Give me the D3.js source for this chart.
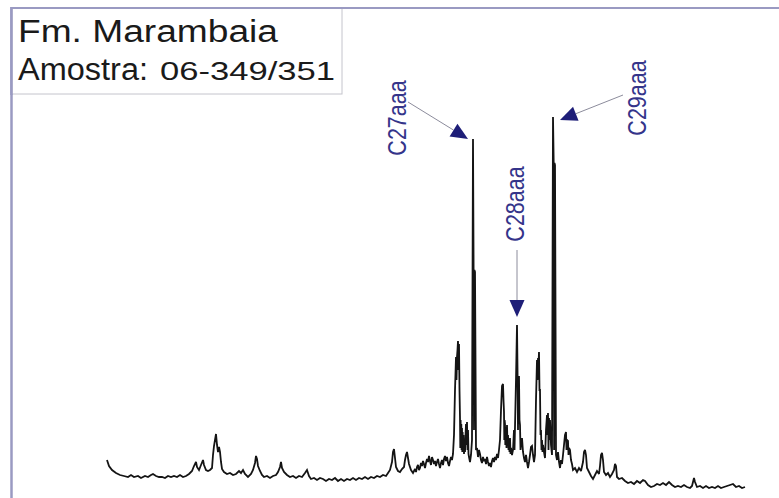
<!DOCTYPE html>
<html>
<head>
<meta charset="utf-8">
<script src="https://cdn.jsdelivr.net/npm/d3@7"></script>
<style>
  html, body { margin: 0; padding: 0; background: #ffffff; }
  svg { display: block; }
  text { font-family: "Liberation Sans", Arial, Helvetica, sans-serif; }
</style>
</head>
<body>
<svg id="chart" width="779" height="498"></svg>
<script>
// m/z 217 trace as [scan, relative abundance] pairs
const trace = [
  [0,30],[2,24],[5,20],[9,17],[13,15],[17,14],[21,13],[24,15],[27,13],[31,14],[34,12],[38,14],[41,13],[44,15],
  [46,16],[49,14],[52,13],[55,13],[58,12],[61,14],[64,13],[67,14],[70,13],[73,15],[76,13],[79,14],[82,16],[85,19],
  [87,24],[89,28],[90,23],[92,20],[94,25],[96,30],[97,25],[99,20],[101,19],[103,20],[105,22],[106,35],[107,44],
  [108,50],[109,56],[110,45],[111,38],[112,43],[113,38],[114,28],[115,21],[117,18],[120,16],[123,17],[126,15],
  [129,16],[132,19],[134,17],[136,20],[138,16],[141,13],[144,16],[146,20],[148,27],[149,34],[150,31],[151,24],
  [153,19],[155,15],[157,13],[160,14],[163,12],[166,14],[169,15],[171,18],[173,23],[174,28],[175,22],[177,18],
  [180,15],[183,13],[186,14],[189,12],[192,14],[195,13],[198,17],[200,20],[202,14],[204,11],[207,12],[210,10],
  [213,12],[216,11],[219,9],[222,11],[225,10],[228,12],[231,9],[234,11],[237,9],[240,11],[243,10],[246,12],
  [249,10],[252,12],[255,11],[258,13],[261,11],[264,13],[267,12],[270,14],[273,13],[276,15],[279,14],[281,17],
  [283,20],[285,28],[286,38],[287,41],[288,32],[289,23],[291,19],[293,18],[295,21],[297,23],[298,30],[299,35],
  [300,38],[301,32],[302,26],[304,20],[306,17],[307,19],[308,21],[309,18],[310,23],[311,25],[312,20],[313,22],
  [314,27],[315,24],[316,29],[317,26],[318,22],[319,27],[320,31],[321,28],[322,34],[323,29],[324,25],[325,33],
  [326,30],[327,26],[328,29],[329,24],[330,28],[331,31],[332,26],[333,22],[334,27],[335,30],[336,25],[337,31],
  [338,34],[339,29],[340,33],[341,27],[342,24],[343,29],[344,33],[345,30],[346,36],[347,55],[348,100],[349,133],
  [349.5,110],[350,133],[350.5,140],[351,149],[351.5,120],[352,146],[352.5,100],[353,72],[353.3,42],[353.6,70],
  [354,45],[354.3,66],[354.6,40],[355,62],[355.3,38],[355.6,58],[356,40],[356.5,55],[357,36],[357.5,50],[358,38],
  [358.5,54],[359,66],[359.5,45],[360,68],[360.5,40],[361,60],[361.5,36],[362,33],[363,28],[364,35],[365,50],
  [366,351],[366.6,220],[367,60],[367.4,220],[368,218],[369,40],[370,42],[371,33],[372,40],[373,36],[374,30],
  [375,27],[376,33],[377,29],[378,31],[379,26],[380,33],[381,28],[382,24],[383,27],[384,23],[385,29],[386,32],
  [387,28],[388,33],[389,30],[390,36],[391,32],[392,40],[393,50],[394,80],[395,104],[396,106],[396.5,90],[397,78],
  [397.3,50],[397.6,70],[398,66],[398.3,45],[398.6,62],[399,62],[399.5,42],[400,65],[400.5,45],[401,55],[401.5,40],
  [402,50],[402.5,38],[403,52],[403.5,36],[404,42],[405,35],[406,40],[407,60],[407.5,40],[408,63],[409,110],
  [410,165],[410.6,113],[411,60],[411.4,113],[412,113],[412.5,70],[413,65],[413.5,40],[414,45],[415,52],[416,38],
  [417,32],[418,28],[419,35],[420,28],[421,22],[422,28],[423,35],[424,43],[425,44],[426,35],[427,28],[428,35],
  [429,90],[430,130],[430.5,110],[431,132],[431.5,125],[432,138],[432.5,100],[433,100],[433.5,55],[434,60],
  [434.5,40],[435,50],[435.5,38],[436,45],[437,38],[438,32],[439,60],[440,75],[440.5,55],[441,77],[441.5,40],
  [442,72],[442.5,50],[443,70],[444,45],[445,35],[446,373],[446.7,327],[447.1,40],[447.5,327],[448,325],[449,35],
  [450,30],[451,38],[452,28],[453,22],[454,30],[455,26],[456,35],[457,45],[458,55],[459,58],[459.5,40],[460,50],
  [461,49],[461.5,35],[462,42],[463,40],[464,30],[465,26],[466,20],[468,22],[470,18],[472,22],[474,19],[476,28],
  [477,38],[478,40],[479,35],[480,22],[482,18],[484,14],[486,11],[488,15],[490,19],[492,16],[493,24],[494,35],
  [495,37],[496,30],[497,18],[499,15],[501,17],[503,13],[505,16],[507,20],[508,26],[509,24],[510,13],[512,11],
  [515,12],[518,9],[521,7],[524,8],[527,6],[530,9],[533,7],[536,10],[538,9],[541,5],[544,3],[547,4],[550,6],
  [553,5],[556,7],[559,5],[562,8],[565,5],[568,3],[571,4],[574,3],[577,5],[580,3],[583,2],[585,4],[587,12],
  [588,8],[590,3],[593,4],[596,2],[599,4],[602,2],[605,3],[608,2],[611,4],[614,2],[617,3],[620,4],[623,5],
  [626,6],[629,3],[632,4],[635,2],[638,3]
];

// Steranes labelled on the trace
const peakNames = ["C27aaa", "C28aaa", "C29aaa"];
const peakScans = [366, 410, 446];

const titleLine1 = "Fm. Marambaia";
const titleLine2a = "Amostra:";
const titleLine2b = "06-349/351";

const svg = d3.select("#chart");
const W = 779, H = 498;

const x = d3.scaleLinear().domain([0, 638]).range([107, 745]);
const y = d3.scaleLinear().domain([0, 380]).range([490, 110]);

// Frame lines (top and left)
const frameColor = "#9a9ac2";
svg.append("line").attr("x1", 11).attr("x2", W).attr("y1", 8).attr("y2", 8)
  .attr("stroke", frameColor).attr("stroke-width", 2);
svg.append("line").attr("x1", 11.5).attr("x2", 11.5).attr("y1", 7).attr("y2", H)
  .attr("stroke", frameColor).attr("stroke-width", 2.5);

// Chromatogram trace
const line = d3.line().x(d => x(d[0])).y(d => y(d[1]));
svg.append("path").datum(trace)
  .attr("d", line)
  .attr("fill", "none")
  .attr("stroke", "#141414")
  .attr("stroke-width", 1.8)
  .attr("stroke-linejoin", "miter")
  .attr("stroke-miterlimit", 2.5);

// Peak annotations: label, shaft and arrowhead
const labelColor = "#34348a";
const headColor = "#1e1e78";
const annot = [
  { tip: [-5, 0],  tail: [-65, -37], label: [-76, -21] },
  { tip: [0, -8],  tail: [0, -75],   label: [-2, -121] },
  { tip: [7, 3],   tail: [70, -22],  label: [84, -19] }
];

peakNames.forEach((name, i) => {
  const ps = peakScans[i];
  const pa = trace.find(d => d[0] === ps)[1];
  const px = x(ps), py = y(pa);
  const o = annot[i];
  const tx = px + o.tip[0], ty = py + o.tip[1];
  const sx = px + o.tail[0], sy = py + o.tail[1];
  const dx = tx - sx, dy = ty - sy, len = Math.hypot(dx, dy);
  const ux = dx / len, uy = dy / len;
  const headLen = 17, headHalf = 7.5;
  const bx = tx - ux * headLen, by = ty - uy * headLen;
  svg.append("line")
    .attr("x1", sx).attr("y1", sy).attr("x2", bx).attr("y2", by)
    .attr("stroke", "#8c8c9c").attr("stroke-width", 1);
  svg.append("path")
    .attr("d", d3.line()([
      [tx, ty],
      [bx - uy * headHalf, by + ux * headHalf],
      [bx + uy * headHalf, by - ux * headHalf]
    ]) + "Z")
    .attr("fill", headColor);
  svg.append("text")
    .attr("transform", `translate(${px + o.label[0]},${py + o.label[1]}) rotate(-90) scale(1,1.22)`)
    .attr("text-anchor", "middle")
    .attr("dominant-baseline", "central")
    .attr("font-size", 21.5)
    .attr("fill", labelColor)
    .text(name);
});

// Title box
svg.append("rect")
  .attr("x", 12).attr("y", 8).attr("width", 330).attr("height", 86)
  .attr("fill", "#ffffff").attr("stroke", "#c4c4cc").attr("stroke-width", 1);
svg.append("line").attr("x1", 11).attr("x2", 343).attr("y1", 8).attr("y2", 8)
  .attr("stroke", frameColor).attr("stroke-width", 2);
svg.append("line").attr("x1", 11.5).attr("x2", 11.5).attr("y1", 7).attr("y2", 95)
  .attr("stroke", frameColor).attr("stroke-width", 2.5);

svg.append("text").attr("x", 18).attr("y", 42)
  .attr("font-size", 31).attr("fill", "#1a1a1a")
  .attr("textLength", 260).attr("lengthAdjust", "spacingAndGlyphs")
  .text(titleLine1);
svg.append("text").attr("x", 18).attr("y", 80)
  .attr("font-size", 31).attr("fill", "#1a1a1a")
  .attr("textLength", 130).attr("lengthAdjust", "spacingAndGlyphs")
  .text(titleLine2a);
svg.append("text").attr("x", 160).attr("y", 80)
  .attr("font-size", 26).attr("fill", "#1a1a1a")
  .attr("textLength", 175).attr("lengthAdjust", "spacingAndGlyphs")
  .text(titleLine2b);
</script>
</body>
</html>
